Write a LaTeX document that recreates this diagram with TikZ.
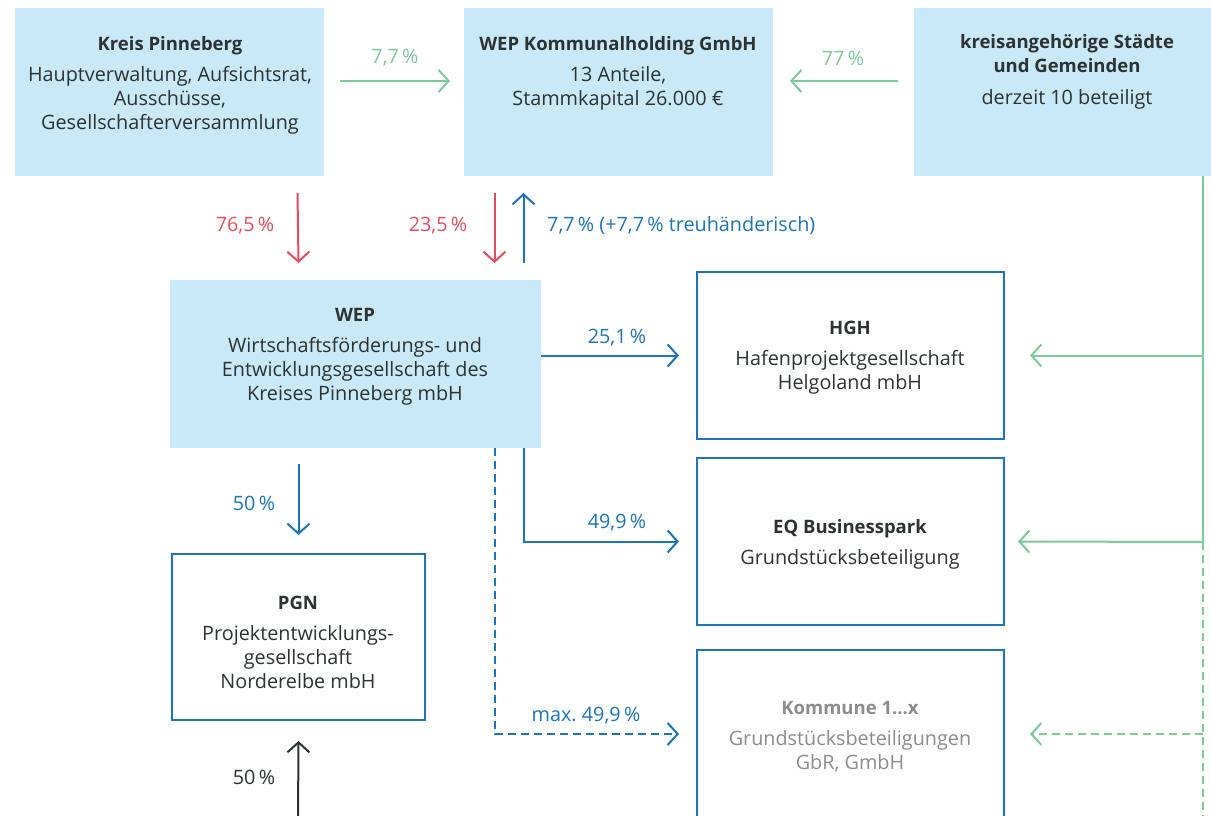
\documentclass[tikz,border=0pt]{standalone}
\usepackage{fontspec}
\setmainfont{Open Sans}
\usetikzlibrary{arrows.meta}
\definecolor{fillblue}{HTML}{C9E8F8}
\definecolor{lblue}{HTML}{1B74BC}
\definecolor{lgreen}{HTML}{7ACB99}
\definecolor{lred}{HTML}{E84A5F}
\definecolor{txtc}{HTML}{2C3331}
\definecolor{greyc}{HTML}{8C8C8C}
\frenchspacing
\newcommand{\boxtitle}[1]{{\fontsize{18.5}{24}\selectfont\bfseries #1}}
\begin{document}
\begin{tikzpicture}[x=1pt,y=-1pt,
  filled/.style={fill=fillblue, draw=none, anchor=north west, inner sep=0, outer sep=0},
  outlined/.style={draw=lblue, line width=2.5pt, fill=white, anchor=north west, inner sep=0, outer sep=0},
  txt/.style={align=center, text=txtc, font=\fontsize{19.8}{24}\selectfont, inner sep=0},
  lbl/.style={font=\fontsize{19.8}{22}\selectfont, inner sep=0},
  tip/.style={-{Straight Barb[length=10pt,width=22pt,line width=2pt]}},
  arr/.style={line width=2pt, tip},
  garr/.style={arr, draw=lgreen},
  barr/.style={arr, draw=lblue},
  rarr/.style={arr, draw=lred},
  karr/.style={arr, draw=txtc},
  dsh/.style={dash pattern=on 8pt off 5pt}
]
\useasboundingbox (0,0) rectangle (1211,816);
\clip (0,0) rectangle (1211,816);

% boxes
\node[filled, minimum width=309pt, minimum height=168pt] (kreis) at (15,8) {};
\node[filled, minimum width=309pt, minimum height=168pt] (holding) at (464,8) {};
\node[filled, minimum width=309pt, minimum height=168pt] (staedte) at (914,8) {};
\node[filled, minimum width=371pt, minimum height=168pt] (wep) at (170,280) {};
\node[outlined, minimum width=307pt, minimum height=167pt] (hgh) at (697,272) {};
\node[outlined, minimum width=307pt, minimum height=167pt] (eq) at (697,458) {};
\node[outlined, minimum width=307pt, minimum height=168pt] (kommune) at (697,650) {};
\node[outlined, minimum width=253pt, minimum height=166pt] (pgn) at (172,554) {};

% texts
\node[txt] (kreist) at (170,85) {\boxtitle{Kreis Pinneberg}\\[7pt]Hauptverwaltung, Aufsichtsrat,\\Ausschüsse,\\Gesellschafterversammlung};
\node[txt] (holdingt) at (618,73) {\boxtitle{WEP Kommunalholding GmbH}\\[7pt]13 Anteile,\\Stammkapital 26.000 €};
\node[txt] (staedtet) at (1067,72) {\boxtitle{kreisangehörige Städte}\\\boxtitle{und Gemeinden}\\[8pt]derzeit 10 beteiligt};
\node[txt] (wept) at (355,357) {\boxtitle{WEP}\\[7pt]Wirtschaftsförderungs- und\\Entwicklungsgesellschaft des\\Kreises Pinneberg mbH};
\node[txt] (hght) at (850,358) {\boxtitle{HGH}\\[7pt]Hafenprojektgesellschaft\\Helgoland mbH};
\node[txt] (eqt) at (850,544) {\boxtitle{EQ Businesspark}\\[7pt]Grundstücksbeteiligung};
\node[txt] (pgnt) at (298,642) {\boxtitle{PGN}\\[7pt]Projektentwicklungs-\\gesellschaft\\Norderelbe mbH};
\node[txt, text=greyc] (kommunet) at (850,737) {\boxtitle{Kommune 1...x}\\[7pt]Grundstücksbeteiligungen\\GbR, GmbH};

% coordinates
\coordinate (gsplit) at (1203,542);
\coordinate (gend) at (1203,820);
\coordinate (pgnin) at (298,820);

% connectors
\draw[garr] ([xshift=16pt,yshift=11pt]kreis.east) -- ([xshift=-14pt,yshift=11pt]holding.west);
\draw[garr] ([xshift=-16pt,yshift=11pt]staedte.west) -- ([xshift=17pt,yshift=11pt]holding.east);
\draw[rarr] ([xshift=128pt,yshift=-17pt]kreis.south) -- ([xshift=-57pt,yshift=17pt]wep.north);
\draw[rarr] ([xshift=-124pt,yshift=-17pt]holding.south) -- ([xshift=139pt,yshift=17pt]wep.north);
\draw[barr] ([xshift=168pt,yshift=17pt]wep.north) -- ([xshift=-95pt,yshift=-17pt]holding.south);
\draw[barr] (wep.east |- hgh.west) -- ([xshift=-18pt]hgh.west);
\draw[barr] ([xshift=168pt]wep.south) |- ([xshift=-18pt]eq.west);
\draw[barr, dsh] ([xshift=139pt]wep.south) |- ([xshift=-18pt]kommune.west);
\draw[barr] ([xshift=-57pt,yshift=-16pt]wep.south) -- ([yshift=19pt]pgn.north);
\draw[karr] (pgnin) -- ([yshift=-21pt]pgn.south);

\draw[lgreen, line width=2pt] ([xshift=134.5pt]staedte.south) -- (gsplit);
\draw[lgreen, line width=2pt, dsh] (gsplit) -- (gend);
\draw[garr] (gsplit |- hgh.east) -- ([xshift=26pt]hgh.east);
\draw[garr] (gsplit) -- ([xshift=14pt]eq.east);
\draw[garr, dsh] (gsplit |- kommune.east) -- ([xshift=26pt]kommune.east);

% labels
\node[lbl, text=lgreen] (l1) at (395,58) {7,7\,\%};
\node[lbl, text=lgreen] (l2) at (843,58) {77\,\%};
\node[lbl, text=lred] (l3) at (245,226) {76,5\,\%};
\node[lbl, text=lred] (l4) at (438,226) {23,5\,\%};
\node[lbl, text=lblue, anchor=west] (l5) at (547,226) {7,7\,\% (+7,7\,\% treuhänderisch)};
\node[lbl, text=lblue] (l6) at (617,338) {25,1\,\%};
\node[lbl, text=lblue] (l7) at (617,523) {49,9\,\%};
\node[lbl, text=lblue] (l8) at (586,716) {max. 49,9\,\%};
\node[lbl, text=lblue] (l9) at (254,503) {50\,\%};
\node[lbl, text=txtc] (l10) at (254,777) {50\,\%};
\end{tikzpicture}
\end{document}
